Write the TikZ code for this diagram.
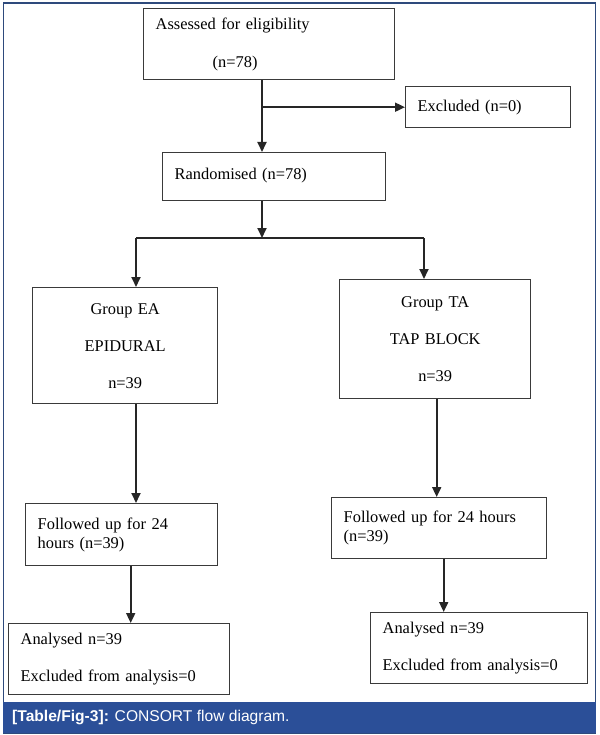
\documentclass[tikz,border=0pt]{standalone}
\usepackage{fontspec}
\setmainfont{Liberation Serif}
\newfontfamily\capfont{Liberation Sans}
\usepackage{xcolor}
\usetikzlibrary{arrows.meta,positioning}
\definecolor{framenavy}{HTML}{2E4A7C}
\definecolor{capblue}{HTML}{2B4F98}
\definecolor{boxline}{HTML}{3A3A3A}

\begin{document}
\begin{tikzpicture}[
  x=1pt, y=-1pt,
  font=\fontsize{16.4}{19}\selectfont,
  box/.style={draw=boxline, line width=1.4pt, anchor=north west, inner xsep=12pt, inner ysep=0pt},
  lbox/.style={box, align=left},
  cbox/.style={box, align=center},
  arr/.style={-{Triangle[length=10pt,width=9pt]}, line width=1.8pt, black!85},
  link/.style={line width=1.8pt, black!85}
]
\useasboundingbox (0,0) rectangle (599,735);
\draw[framenavy, line width=1.6pt] (3.5,3) rectangle (595.5,733);
\fill[capblue] (3,702) rectangle (596,733);

% boxes
\node[lbox, minimum width=251pt, minimum height=71pt, text width=227pt] (assess) at (143,8)
  {Assessed for eligibility\\[19pt]\hspace*{57pt}(n=78)};
\node[lbox, minimum width=165pt, minimum height=41pt, text width=141pt] (excl) at (405,86)
  {Excluded (n=0)};
\node[lbox, minimum width=223pt, minimum height=48pt, text width=199pt] (rand) at (162,152)
  {\raisebox{5pt}{Randomised (n=78)}};
\node[cbox, minimum width=185pt, minimum height=116pt, text width=161pt] (ea) at (32,287)
  {Group EA\\[18pt]EPIDURAL\\[18pt]n=39};
\node[cbox, minimum width=191pt, minimum height=119pt, text width=167pt] (ta) at (339,279)
  {Group TA\\[18pt]TAP BLOCK\\[18pt]n=39};
\node[lbox, minimum width=192pt, minimum height=62pt, text width=168pt] (fuea) at (25,503)
  {Followed up for 24\\hours (n=39)};
\node[lbox, minimum width=215pt, minimum height=61pt, text width=191pt] (futa) at (331,497)
  {Followed up for 24 hours\\(n=39)};
\node[lbox, minimum width=221pt, minimum height=71pt, text width=197pt] (anea) at (8,623)
  {Analysed n=39\\[18pt]Excluded from analysis=0};
\node[lbox, minimum width=217pt, minimum height=71pt, text width=193pt] (anta) at (370,612)
  {Analysed n=39\\[18pt]Excluded from analysis=0};

% caption
\node[font=\capfont\fontsize{15.6}{17}\selectfont, text=white, anchor=west, inner sep=0pt] (cap) at (12,717)
  {\textbf{[Table/Fig-3]:} CONSORT flow diagram.};

% connectors
\coordinate (trunk) at (262,0);
\coordinate (splitl) at (136,238);
\coordinate (splitr) at (424,238);
\draw[arr] (assess.south -| trunk) -- (rand.north -| trunk);
\draw[arr] (excl.west -| trunk) -- (excl.west);
\draw[arr] (rand.south -| trunk) -- (trunk |- splitl);
\draw[link] (splitl) -- (splitr);
\draw[arr] (splitl) -- (splitl |- ea.north);
\draw[arr] (splitr) -- (splitr |- ta.north);
\draw[arr] (splitl |- ea.south) -- (splitl |- fuea.north);
\draw[arr] ([xshift=1.5pt]ta.south) -- ([xshift=1.5pt]ta.south |- futa.north);
\draw[arr] ([xshift=9pt]fuea.south) -- ([xshift=9pt]fuea.south |- anea.north);
\draw[arr] ([xshift=4.5pt]futa.south) -- ([xshift=4.5pt]futa.south |- anta.north);
\end{tikzpicture}
\end{document}
